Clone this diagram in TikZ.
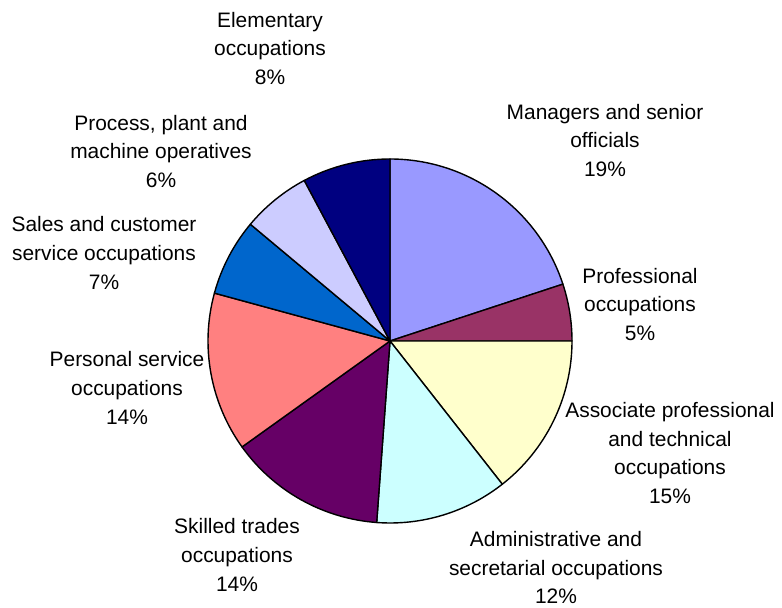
\documentclass[tikz,border=0pt]{standalone}
\usepackage{fontspec}
\setmainfont{Liberation Sans}
\begin{document}
\begin{tikzpicture}[x=1bp,y=1bp,
  slice/.style={draw=black,line width=1.4bp,line join=round},
  lbl/.style={text=black,align=center,inner sep=0pt,outer sep=0pt,
    font=\fontsize{21}{29}\selectfont}]
\definecolor[named]{colManagers}{rgb}{0.60,0.60,1.00}
\definecolor[named]{colProf}{rgb}{0.60,0.20,0.40}
\definecolor[named]{colAssoc}{rgb}{1.00,1.00,0.80}
\definecolor[named]{colAdmin}{rgb}{0.80,1.00,1.00}
\definecolor[named]{colSkilled}{rgb}{0.40,0.00,0.40}
\definecolor[named]{colPersonal}{rgb}{1.00,0.50,0.50}
\definecolor[named]{colSales}{rgb}{0.00,0.40,0.80}
\definecolor[named]{colProcess}{rgb}{0.80,0.80,1.00}
\definecolor[named]{colElem}{rgb}{0.00,0.00,0.50}
\path[use as bounding box,fill=white] (0,0) rectangle (782,608);
\coordinate (c) at (390,267);

% slices, clockwise from the top
\foreach \a/\b/\col in {90/18.2/colManagers,18.2/0/colProf,0/-51.9/colAssoc,
  -51.9/-94.2/colAdmin,-94.2/-144.4/colSkilled,-144.4/-195.25/colPersonal,
  -195.25/-219.9/colSales,-219.9/-241.9/colProcess,-241.9/-270/colElem}
  \path[slice,fill=\col] (c) -- ++(\a:182) arc[start angle=\a,end angle=\b,radius=182] -- cycle;

% labels
\node[lbl] (elem) at (270,559.5) {Elementary\\occupations\\8\%};
\node[lbl] (managers) at (605,467.5) {Managers and senior\\officials\\19\%};
\node[lbl] (prof) at (640,303.5) {Professional\\occupations\\5\%};
\node[lbl] (assoc) at (670,155) {Associate professional\\and technical\\occupations\\15\%};
\node[lbl] (admin) at (556,40.5) {Administrative and\\secretarial occupations\\12\%};
\node[lbl] (skilled) at (237,53) {Skilled trades\\occupations\\14\%};
\node[lbl] (personal) at (127,220) {Personal service\\occupations\\14\%};
\node[lbl] (sales) at (104,355) {Sales and customer\\service occupations\\7\%};
\node[lbl] (process) at (161,456.5) {Process, plant and\\machine operatives\\6\%};
\end{tikzpicture}
\end{document}
